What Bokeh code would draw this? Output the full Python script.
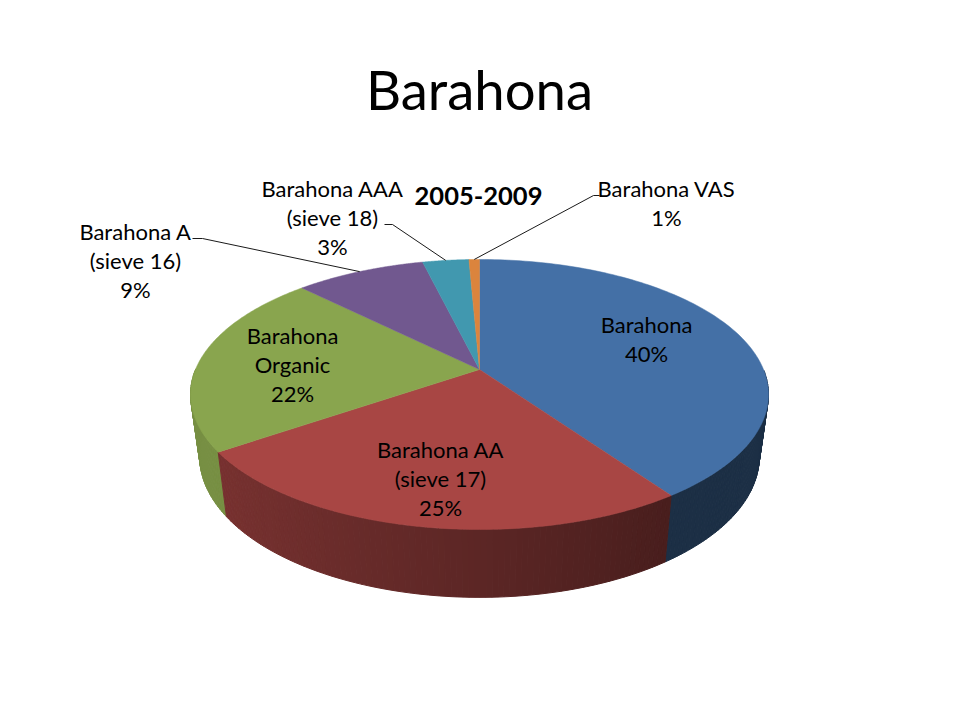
import numpy as np
from bokeh.plotting import figure
from bokeh.models import Range1d
from bokeh.core.properties import value
from bokeh.embed import file_html
from bokeh.resources import INLINE

title = "Barahona"
subtitle = "2005-2009"
categories = ["Barahona", "Barahona AA", "Barahona Organic", "Barahona A", "Barahona AAA", "Barahona VAS"]
label_lines = [["Barahona"], ["Barahona AA", "(sieve 17)"], ["Barahona", "Organic"],
               ["Barahona A", "(sieve 16)"], ["Barahona AAA", "(sieve 18)"], ["Barahona VAS"]]
shares = [40.3, 25.1, 22.1, 8.7, 3.1, 0.7]
colors = ["#4470a6", "#a84644", "#89a54e", "#71588f", "#4198af", "#db843d"]
label_x = [647, 441, 293, 136, 333, 667]
label_y = [325, 450, 336, 232, 189, 189]
elbows = [None, None, None, [(193, 239), (203, 239)], [(385, 225), (393, 225)], [(600, 196), (594, 196)]]

FONT = "Lato"
CX, CY, A, B, K = 480.0, 370.0, 284.0, 130.4, 0.185
CY2, A2, B2 = 431.0, 275.0, 136.0
LINE = 29


def ring(theta, cy=CY, a=A, b=B):
    u, v = np.sin(theta), -np.cos(theta)
    d = 1 - K * v
    return CX + a * u / d, cy + b * v / d


def shade(hex_color, f):
    r, g, b = [int(hex_color[i:i + 2], 16) for i in (1, 3, 5)]
    return "#%02x%02x%02x" % (int(r * f), int(g * f), int(b * f))


def wall_factor(i, u):
    if i == 2:
        return 0.87
    if i == 0:
        return 0.42
    return 0.55 - 0.20 * u


p = figure(width=944, height=704, output_backend="svg", toolbar_location=None,
           x_range=Range1d(1, 945), y_range=Range1d(705, 1),
           min_border=0, outline_line_color=None, background_fill_color="white")
p.axis.visible = False
p.grid.visible = False

edges = np.concatenate([[0], np.cumsum(shares)]) / sum(shares) * 2 * np.pi

# walls, back to front (only the near half of the rim can be seen)
quads = []
for i in range(len(shares)):
    n = max(2, int(np.degrees(edges[i + 1] - edges[i])) + 1)
    ts = np.linspace(edges[i], edges[i + 1], n + 1)
    for t0, t1 in zip(ts[:-1], ts[1:]):
        tm = (t0 + t1) / 2
        if -np.cos(tm) <= 0:
            continue
        x0, y0 = ring(t0)
        x1, y1 = ring(t1)
        x2, y2 = ring(t1, CY2, A2, B2)
        x3, y3 = ring(t0, CY2, A2, B2)
        c = shade(colors[i], wall_factor(i, np.sin(tm)))
        quads.append((-np.cos(tm), [x0, x1, x2, x3], [y0, y1, y2, y3], c))
quads.sort(key=lambda q: q[0])
p.patches([q[1] for q in quads], [q[2] for q in quads], fill_color=[q[3] for q in quads],
          line_color=[q[3] for q in quads], line_width=1)

# top faces
xs, ys = [], []
for i in range(len(shares)):
    ts = np.linspace(edges[i], edges[i + 1], 120)
    rx, ry = ring(ts)
    xs.append([CX] + list(rx))
    ys.append([CY] + list(ry))
p.patches(xs, ys, fill_color=colors, line_color=colors, line_width=0.5)

# leader lines, ending on the rim at each slice's mid angle
for i, el in enumerate(elbows):
    if el is None:
        continue
    ex, ey = ring((edges[i] + edges[i + 1]) / 2)
    p.line([el[0][0], el[1][0], ex], [el[0][1], el[1][1], ey], line_color="#1a1a1a", line_width=1)

# labels
tx, ty, tt = [], [], []
for i, lines in enumerate(label_lines):
    rows = lines + ["%d%%" % round(shares[i])]
    for j, s in enumerate(rows):
        tx.append(label_x[i])
        ty.append(label_y[i] + j * LINE)
        tt.append(s)
p.text(tx, ty, text=tt, text_font=value(FONT), text_font_size="22px", text_color="black",
       text_align="center", text_baseline="middle")
p.text([480], [89], text=[title], text_font=value(FONT), text_font_size="54.5px", text_color="black",
       text_align="center", text_baseline="middle")
p.text([479], [196], text=[subtitle], text_font=value(FONT), text_font_style="bold",
       text_font_size="25.5px", text_color="black", text_align="center", text_baseline="middle")

open("out.html", "w").write(file_html(p, INLINE))
